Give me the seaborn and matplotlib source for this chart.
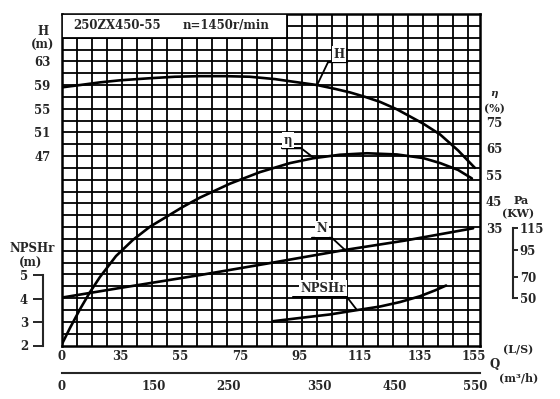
import numpy as np
import matplotlib
matplotlib.use("Agg")
import matplotlib.pyplot as plt
import matplotlib.transforms as mtransforms
import seaborn as sns
from matplotlib.text import OffsetFrom
from matplotlib.patches import Rectangle

# ---------------- data ----------------
q_h = [0, 11.1, 23.0, 35, 45, 53.3, 61.7, 70, 78.3, 86.7, 95, 100.7, 106.7, 111.7,
       116.7, 121.7, 127.3, 136, 141.7, 147.7, 153.3]
h_m = [58.6, 59.0, 59.45, 59.8, 60.15, 60.4, 60.5, 60.5, 60.4, 60.0, 59.4, 59.0, 58.35, 57.75,
       57.0, 56.15, 54.9, 52.5, 50.65, 47.95, 45.0]

q_eta = [0, 5.1, 11.1, 17.1, 23.0, 32.6, 39.3, 45, 50.6, 56, 61.7, 71.7, 81.7, 91.7,
         99.3, 108.3, 117.3, 127.3, 136, 141.7, 147.7, 152.3]
eta_pct = [-9.15, -2.7, 4.4, 10.85, 16.5, 24.4, 30.5, 35.5, 39.3, 43.0, 46.5, 51.75, 56.1, 59.5,
           61.3, 62.65, 63.2, 62.75, 61.4, 59.5, 56.9, 53.7]

q_n = [0, 35, 61.7, 85, 110, 130, 152.7]
n_kw = [50.6, 59.6, 71.6, 82.7, 94.9, 103.6, 115.0]

q_npsh = [86, 95, 105, 111.7, 121.7, 128.3, 135, 140, 143.7]
npsh_m = [3.04, 3.18, 3.33, 3.47, 3.67, 3.86, 4.11, 4.36, 4.57]

q_ticks = [0, 35, 55, 75, 95, 115, 135, 155]
h_ticks = [47, 51, 55, 59, 63]
eta_ticks = [35, 45, 55, 65, 75]
pa_ticks = [50, 70, 95, 115]
npsh_ticks = [2, 3, 4, 5]
m3h_labels = ["0", "150", "250", "350", "450", "550"]
m3h_pos = [0, 46.4, 71.3, 101.4, 126.7, 155]
m3h_minor_pos = [26.5, 56.1, 85.6, 112.2, 141.7]

title_model = "250ZX450-55"
title_speed = "n=1450r/min"

# ---------------- style ----------------
sns.set_style("white")
plt.rcParams["font.family"] = ["DejaVu Serif", "DejaVu Sans"]
plt.rcParams["font.weight"] = "bold"
FS = 8.5
K = "black"

W, HH = 560, 399
L, R, T, B = 61.5, 480.0, 14.0, 345.5
rect = [L / W, (HH - B) / HH, (R - L) / W, (B - T) / HH]

fig = plt.figure(figsize=(W / 100, HH / 100), dpi=100)


def fwd(q):
    q = np.asarray(q, dtype=float)
    return np.where(q <= 35, q * 58.5 / 35, 58.5 + (q - 35) * 3.0)


def inv(p):
    p = np.asarray(p, dtype=float)
    return np.where(p <= 58.5, p * 35 / 58.5, 35 + (p - 58.5) / 3.0)


# ---------------- grid axes ----------------
gax = fig.add_axes(rect, zorder=0)
ncx = (R - L) / 15.05
gax.set_xlim(0, ncx)
gax.set_ylim(28, 0)
for i in range(1, int(ncx) + 1):
    gax.axvline(i, color=K, lw=1.3)
for j in range(1, 28):
    gax.axhline(j, color=K, lw=1.3)
gax.add_patch(Rectangle((0, 0), 15, 2, fc="white", ec=K, lw=1.3, zorder=3))
gax.text(0.76, 1.0, title_model, ha="left", va="center", fontsize=FS, zorder=4)
gax.text(8.07, 1.0, title_speed, ha="left", va="center", fontsize=FS, zorder=4)
gax.set_xticks([])
gax.set_yticks([])
for s in gax.spines.values():
    s.set_linewidth(1.8)
    s.set_color(K)

# ---------------- main axes (H) ----------------
ax = fig.add_axes(rect, zorder=1)
ax.patch.set_alpha(0)
ax.set_xscale("function", functions=(fwd, inv))
ax.set_xlim(0, 155)
ax.set_ylim(15, 71)
for s in ax.spines.values():
    s.set_visible(False)
ax.set_xticks(q_ticks)
ax.set_xticklabels([str(v) for v in q_ticks])
ax.set_yticks(h_ticks)
ax.set_yticklabels([str(v) for v in h_ticks])
ax.tick_params(axis="both", length=0, labelsize=FS)
ax.tick_params(axis="y", pad=8)
ax.tick_params(axis="x", pad=3)
ax.xaxis.set_minor_locator(matplotlib.ticker.NullLocator())
last = ax.get_xticklabels()[-1]
last.set_transform(last.get_transform() + mtransforms.ScaledTranslation(-6 / 100, 0, fig.dpi_scale_trans))
sns.lineplot(x=q_h, y=h_m, ax=ax, color=K, linewidth=1.9, estimator=None)

# ---------------- efficiency ----------------
ax_e = ax.twinx()
ax_e.set_ylim(-9.34, 115.75)
for s in ax_e.spines.values():
    s.set_visible(False)
ax_e.set_yticks(eta_ticks)
ax_e.set_yticklabels([str(v) for v in eta_ticks])
ax_e.tick_params(axis="y", length=0, pad=4.3, labelsize=FS)
sns.lineplot(x=q_eta, y=eta_pct, ax=ax_e, color=K, linewidth=1.9, estimator=None)

# ---------------- power ----------------
ax_n = ax.twinx()
ax_n.set_ylim(6.17, 314)
for name, s in ax_n.spines.items():
    s.set_visible(name == "right")
ax_n.spines["right"].set_position(("axes", (513 - L) / (R - L)))
ax_n.spines["right"].set_bounds(50, 115)
ax_n.spines["right"].set_linewidth(1.5)
ax_n.set_yticks(pa_ticks)
ax_n.set_yticklabels([str(v) for v in pa_ticks])
ax_n.tick_params(axis="y", direction="out", length=3.3, width=1.4, pad=1.5, labelsize=FS)
sns.lineplot(x=q_n, y=n_kw, ax=ax_n, color=K, linewidth=1.9, estimator=None)

# ---------------- NPSHr ----------------
ax_p = ax.twinx()
ax_p.set_ylim(2.0, 16.2)
for name, s in ax_p.spines.items():
    s.set_visible(name == "left")
ax_p.yaxis.set_ticks_position("left")
ax_p.spines["left"].set_position(("axes", (43.3 - L) / (R - L)))
ax_p.spines["left"].set_bounds(2, 5)
ax_p.spines["left"].set_linewidth(1.5)
ax_p.set_yticks(npsh_ticks)
ax_p.set_yticklabels([str(v) for v in npsh_ticks])
ax_p.tick_params(axis="y", direction="out", length=7, width=1.4, pad=4, labelsize=FS)
sns.lineplot(x=q_npsh, y=npsh_m, ax=ax_p, color=K, linewidth=1.9, estimator=None)

for a in (ax, ax_e, ax_n, ax_p):
    a.set_ylabel("")
    a.set_xlabel("")

# ---------------- m3/h scale ----------------
ax_m = fig.add_axes([L / W, (HH - 373.3) / HH, (R - L) / W, 0.0001], zorder=1)
ax_m.patch.set_alpha(0)
ax_m.set_xscale("function", functions=(fwd, inv))
ax_m.set_xlim(0, 155)
for name, s in ax_m.spines.items():
    s.set_visible(name == "bottom")
ax_m.spines["bottom"].set_linewidth(1.5)
ax_m.set_yticks([])
ax_m.set_xticks(m3h_pos)
ax_m.set_xticklabels(m3h_labels)
ax_m.set_xticks(m3h_minor_pos, minor=True)
ax_m.tick_params(axis="x", which="both", direction="in", length=5.3, width=1.4, pad=4.5, labelsize=FS)
lastm = ax_m.get_xticklabels()[-1]
lastm.set_transform(lastm.get_transform() + mtransforms.ScaledTranslation(-5 / 100, 0, fig.dpi_scale_trans))


# ---------------- curve labels with leaders ----------------
def leader(axis, qs, ys, q, text, end, start, tpos):
    y = float(np.interp(q, qs, ys))
    axis.annotate("", xy=(q, y), xycoords="data", xytext=end, textcoords="offset pixels",
                  arrowprops=dict(arrowstyle="-", lw=1.3, color=K, shrinkA=0, shrinkB=0))
    off = OffsetFrom(axis.transData, (q, y), unit="pixels")
    axis.annotate("", xy=start, xycoords=off, xytext=end, textcoords=off,
                  arrowprops=dict(arrowstyle="-", lw=1.6, color=K, shrinkA=0, shrinkB=0))
    axis.annotate(text, xy=(q, y), xytext=tpos, textcoords="offset pixels", ha="center",
                  va="center", fontsize=FS, zorder=5,
                  bbox=dict(boxstyle="square,pad=0.15", fc="white", ec="none"))


leader(ax, q_h, h_m, 100.7, "H", (11, 23), (30, 23), (22, 31))
leader(ax_e, q_eta, eta_pct, 99.7, "η", (-13, 10), (-32, 10), (-26, 18))
leader(ax_n, q_n, n_kw, 110, "N", (-13, 12), (-33, 12), (-23, 21))
leader(ax_p, q_npsh, npsh_m, 114, "NPSHr", (-10, 13), (-64, 13), (-34, 22))


# ---------------- axis captions ----------------
def ftext(x, y, s, size=FS, **kw):
    fig.text(x / W, 1 - y / HH, s, ha="center", va="center", fontsize=size, **kw)


ftext(42.7, 31.7, "H")
ftext(42.7, 45, "(m)")
ftext(32, 248, "NPSHr")
ftext(31, 263, "(m)")
ftext(494, 94, "η", size=7.5, fontstyle="italic")
ftext(494, 108.5, "(%)", size=8)
ftext(521, 200, "Pa", size=8)
ftext(518, 214, "(KW)", size=8)
ftext(495, 364, "Q")
ftext(518, 350, "(L/S)", size=8)
ftext(519, 378, "(m³/h)", size=8)

fig.savefig("out.png", dpi=100, facecolor="white")
